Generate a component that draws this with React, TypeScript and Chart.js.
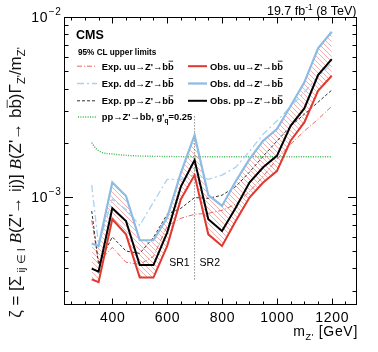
import React, { useEffect, useRef } from 'react';
import { Chart, registerables } from 'chart.js';
Chart.register(...registerables);

// ---- data ----
const masses = [325, 350, 400, 450, 500, 550, 600, 650, 700, 750, 800, 850, 900, 950, 1000, 1050, 1100, 1150, 1200];
const obsUU = [3.47e-4, 3.35e-4, 7.5e-4, 6.18e-4, 3.55e-4, 3.55e-4, 5.32e-4, 9.7e-4, 1.32e-3, 6.18e-4, 5.32e-4, 7.33e-4, 9.9e-4, 1.2e-3, 1.39e-3, 2.05e-3, 2.59e-3, 3.88e-3, 4.71e-3];
const obsDD = [5.5e-4, 5.32e-4, 1.2e-3, 1.01e-3, 5.73e-4, 5.73e-4, 7.66e-4, 1.36e-3, 2.2e-3, 1.02e-3, 8.89e-4, 1.22e-3, 1.62e-3, 2.05e-3, 2.38e-3, 3.2e-3, 4.33e-3, 6.7e-3, 8.28e-3];
const obsPP = [3.98e-4, 3.83e-4, 8.63e-4, 7.33e-4, 4.17e-4, 4.17e-4, 6.32e-4, 1.14e-3, 1.6e-3, 7.5e-4, 6.45e-4, 8.7e-4, 1.2e-3, 1.46e-3, 1.69e-3, 2.48e-3, 3.1e-3, 4.75e-3, 5.83e-3];
const expUU = [7.4e-4, 4.32e-4, 5.23e-4, 4.32e-4, 4.21e-4, 4.66e-4, 6.85e-4, 7.59e-4, 7.99e-4, 8.09e-4, 8.41e-4, 9.08e-4, 1.07e-3, 1.3e-3, 1.62e-3, 1.96e-3, 2.32e-3, 2.7e-3, 3.19e-3];
const expDD = [1.16e-3, 5.37e-4, 9.7e-4, 8.51e-4, 6.94e-4, 9.32e-4, 1.25e-3, 1.25e-3, 1.33e-3, 1.25e-3, 1.32e-3, 1.46e-3, 1.79e-3, 2.23e-3, 2.64e-3, 3.17e-3, 3.82e-3, 4.64e-3, 5.55e-3];
const expPP = [8.33e-4, 4.21e-4, 5.98e-4, 4.99e-4, 4.84e-4, 5.94e-4, 7.99e-4, 8.63e-4, 9.9e-4, 9.8e-4, 1.02e-3, 1.14e-3, 1.37e-3, 1.68e-3, 2.04e-3, 2.47e-3, 2.88e-3, 3.36e-3, 3.92e-3];
const theoryMass = [325, 340, 360, 400, 450, 500, 600, 700, 800, 900, 1000, 1100, 1200];
const theoryPP = [2.0e-3, 1.86e-3, 1.77e-3, 1.73e-3, 1.7e-3, 1.685e-3, 1.675e-3, 1.67e-3, 1.67e-3, 1.67e-3, 1.67e-3, 1.67e-3, 1.67e-3];
const srMass = [700, 700];
const srLine = [3.47e-4, 2.82e-3];
const xMajorTicks = [400, 600, 800, 1000, 1200];
const yMajorTicks = [1e-3, 1e-2];
const yTickExp = ['\u22123', '\u22122'];

const SANS = '"Liberation Sans", Arial, sans-serif';

const C_OBS_UU = '#e0382e';
const C_OBS_DD = '#8cbbe3';
const C_OBS_PP = '#000000';
const C_EXP_UU = '#e8685e';
const C_EXP_DD = '#a9d2f0';
const C_EXP_PP = '#333333';
const C_TH = '#3cb84a';

type Run = { t: string; f: string; dy?: number; bar?: boolean };

function drawRuns(ctx: CanvasRenderingContext2D, runs: Run[], x: number, y: number, align: 'left' | 'right' | 'center' = 'left') {
  const ws = runs.map((r) => { ctx.font = r.f; return ctx.measureText(r.t).width; });
  const w = ws.reduce((a, b) => a + b, 0);
  let cx = align === 'right' ? x - w : align === 'center' ? x - w / 2 : x;
  runs.forEach((r, i) => {
    ctx.font = r.f;
    ctx.textAlign = 'left';
    ctx.fillText(r.t, cx, y + (r.dy || 0));
    if (r.bar) {
      const m = ctx.measureText(r.t);
      const top = y + (r.dy || 0) - m.actualBoundingBoxAscent - 1.3;
      ctx.beginPath();
      ctx.moveTo(cx + 0.6, top);
      ctx.lineTo(cx + ws[i] - 0.6, top);
      ctx.lineWidth = 0.8;
      ctx.strokeStyle = ctx.fillStyle as string;
      ctx.setLineDash([]);
      ctx.stroke();
    }
    cx += ws[i];
  });
  return w;
}

function measureRuns(ctx: CanvasRenderingContext2D, runs: Run[]) {
  return runs.reduce((a, r) => { ctx.font = r.f; return a + ctx.measureText(r.t).width; }, 0);
}

const rootPlugin = {
  id: 'rootDecor',
  afterDraw(chart: any) {
    const { ctx, chartArea: a, scales } = chart;
    const xs = scales.x;
    const ys = scales.y;
    ctx.save();
    ctx.fillStyle = '#000';
    ctx.strokeStyle = '#000';
    ctx.setLineDash([]);
    // frame
    ctx.lineWidth = 1;
    ctx.strokeRect(Math.round(a.left) + 0.5, Math.round(a.top) + 0.5, Math.round(a.right - a.left) - 1, Math.round(a.bottom - a.top) - 1);
    // x ticks
    ctx.beginPath();
    for (let v = 250; v <= 1250; v += 50) {
      const px = Math.round(xs.getPixelForValue(v)) + 0.5;
      if (px < a.left || px > a.right) continue;
      const len = v % 200 === 0 ? 6.5 : 3.5;
      ctx.moveTo(px, a.bottom); ctx.lineTo(px, a.bottom - len);
      ctx.moveTo(px, a.top); ctx.lineTo(px, a.top + len);
    }
    // y ticks
    for (let k = -4; k <= -2; k++) {
      for (let m = 1; m <= 9; m++) {
        const v = m * Math.pow(10, k);
        if (v < ys.min * 0.999 || v > ys.max * 1.001) continue;
        const py = Math.round(ys.getPixelForValue(v)) + 0.5;
        const len = m === 1 ? 9 : 4.5;
        ctx.moveTo(a.left, py); ctx.lineTo(a.left + len, py);
        ctx.moveTo(a.right, py); ctx.lineTo(a.right - len, py);
      }
    }
    ctx.stroke();

    // x tick labels
    (ctx as any).letterSpacing = '0.7px';
    ctx.font = `14px ${SANS}`;
    ctx.textAlign = 'center';
    ctx.textBaseline = 'alphabetic';
    xMajorTicks.forEach((v) => {
      ctx.fillText(String(v), xs.getPixelForValue(v) + 0.4, 321.5);
    });
    // y tick labels
    yMajorTicks.forEach((v, i) => {
      const py = ys.getPixelForValue(v);
      ctx.textAlign = 'right';
      ctx.font = `10px ${SANS}`;
      const supW = ctx.measureText(yTickExp[i]).width;
      ctx.fillText(yTickExp[i], 61.5, py - 2);
      ctx.font = `14px ${SANS}`;
      ctx.fillText('10', 61.5 - supW - 0.5, py + 5);
    });
    // x title
    ctx.textBaseline = 'alphabetic';
    drawRuns(ctx, [
      { t: 'm', f: `14px ${SANS}` },
      { t: "Z'", f: `9px ${SANS}`, dy: 3.5 },
      { t: ' [GeV]', f: `14px ${SANS}` },
    ], 358, 336, 'right');
    (ctx as any).letterSpacing = '0px';

    // y title (rotated)
    const mk = (s: number): Run[] => {
      const F = `${s}px ${SANS}`;
      const FI = `italic ${s}px "Liberation Serif", serif`;
      const FS = `${s * 0.66}px ${SANS}`;
      const d = s * 0.27;
      return [
        { t: '\u03b6 = [', f: F },
        { t: '\u03a3', f: F },
        { t: ' ij \u2208 I', f: FS, dy: d },
        { t: ' ', f: F },
        { t: 'B', f: FI },
        { t: "(Z'\u2192 ij)] ", f: F },
        { t: 'B', f: FI },
        { t: "(Z'\u2192 b", f: F },
        { t: 'b', f: F, bar: true },
        { t: ')\u0393', f: F },
        { t: "Z'", f: FS, dy: d },
        { t: '/m', f: F },
        { t: "Z'", f: FS, dy: d },
      ];
    };
    let s = 15;
    const w0 = measureRuns(ctx, mk(s));
    s = Math.max(12, Math.min(17, s * 301 / w0));
    ctx.save();
    ctx.translate(20.5, 182.5);
    ctx.rotate(-Math.PI / 2);
    ctx.fillStyle = '#111';
    drawRuns(ctx, mk(s), 0, 0, 'center');
    ctx.restore();

    // top-right lumi text
    drawRuns(ctx, [
      { t: '19.7 fb', f: `12.5px ${SANS}` },
      { t: '-1', f: `8.5px ${SANS}`, dy: -5 },
      { t: ' (8 TeV)', f: `12.5px ${SANS}` },
    ], 356.5, 15, 'right');

    // CMS + header
    ctx.textAlign = 'left';
    ctx.font = `bold 12.5px ${SANS}`;
    ctx.fillText('CMS', 76, 38.5);
    ctx.font = `bold 8.2px ${SANS}`;
    ctx.fillText('95% CL upper limits', 78, 54.5);

    // legend
    const LF = `bold 9.4px ${SANS}`;
    const LFS = `bold 6.5px ${SANS}`;
    const rows = [66.2, 83.5, 100.8, 117];
    const sample = (x0: number, x1: number, y: number, color: string, w: number, dash: number[]) => {
      ctx.beginPath();
      ctx.strokeStyle = color; ctx.lineWidth = w; ctx.setLineDash(dash);
      ctx.moveTo(x0, y); ctx.lineTo(x1, y); ctx.stroke();
      ctx.setLineDash([]);
    };
    sample(77, 97, rows[0], C_EXP_UU, 1, [5, 2, 1, 2]);
    sample(77, 97, rows[1], C_EXP_DD, 1.3, [7, 3, 2, 3]);
    sample(77, 97, rows[2], C_EXP_PP, 1, [3, 2]);
    sample(78, 97, rows[3], C_TH, 1.4, [1, 1.4]);
    sample(188, 207, rows[0], C_OBS_UU, 2, []);
    sample(188, 207, rows[1], C_OBS_DD, 2.2, []);
    sample(188, 207, rows[2], C_OBS_PP, 2, []);
    ctx.fillStyle = '#000';
    ctx.strokeStyle = '#000';
    ctx.textBaseline = 'alphabetic';
    const ent = (lab: string) => [{ t: lab + "\u2192Z'\u2192b", f: LF }, { t: 'b', f: LF, bar: true }];
    drawRuns(ctx, ent('Exp. uu'), 101.7, rows[0] + 3.3);
    drawRuns(ctx, ent('Exp. dd'), 101.7, rows[1] + 3.3);
    drawRuns(ctx, ent('Exp. pp'), 101.7, rows[2] + 3.3);
    drawRuns(ctx, [
      { t: "pp\u2192Z'\u2192bb, g'", f: LF },
      { t: 'q', f: LFS, dy: 2.8 },
      { t: '=0.25', f: LF },
    ], 101.7, rows[3] + 3.3);
    drawRuns(ctx, ent('Obs. uu'), 210, rows[0] + 3.3);
    drawRuns(ctx, ent('Obs. dd'), 210, rows[1] + 3.3);
    drawRuns(ctx, ent('Obs. pp'), 210, rows[2] + 3.3);

    // SR labels
    ctx.font = `10.5px ${SANS}`;
    ctx.textAlign = 'right';
    const xsr = xs.getPixelForValue(srMass[0]);
    ctx.fillText('SR1', xsr - 5, 265.7);
    ctx.textAlign = 'left';
    ctx.fillText('SR2', xsr + 5, 265.7);
    ctx.restore();
  },
};

export default function App() {
  const ref = useRef<HTMLCanvasElement>(null);
  useEffect(() => {
    const canvas = ref.current!;
    const ctx = canvas.getContext('2d')!;
    const tile = document.createElement('canvas');
    tile.width = 5; tile.height = 5;
    const tg = tile.getContext('2d')!;
    tg.strokeStyle = 'rgba(238,100,100,0.75)';
    tg.lineWidth = 0.7;
    tg.beginPath();
    tg.moveTo(-1, -1); tg.lineTo(6, 6);
    tg.moveTo(-1, 4); tg.lineTo(1, 6);
    tg.moveTo(4, -1); tg.lineTo(6, 1);
    tg.stroke();
    const hatch = ctx.createPattern(tile, 'repeat')!;

    const pts = (xv: number[], yv: number[]) => xv.map((m, i) => ({ x: m, y: yv[i] }));
    const line = (label: string, data: any[], color: string, width: number, dash: number[], extra: any = {}) => ({
      label, data, borderColor: color, borderWidth: width, borderDash: dash,
      pointRadius: 0, tension: 0, fill: false, backgroundColor: 'transparent', ...extra,
    });

    const chart = new Chart(ctx, {
      type: 'line',
      data: {
        datasets: [
          line('Obs. pp', pts(masses, obsPP), C_OBS_PP, 2, []),
          line('Obs. uu', pts(masses, obsUU), C_OBS_UU, 2, []),
          line('Obs. dd', pts(masses, obsDD), C_OBS_DD, 2.2, [], { fill: 1, backgroundColor: hatch }),
          line('Exp. pp', pts(masses, expPP), C_EXP_PP, 1, [3, 2]),
          line('Exp. uu', pts(masses, expUU), C_EXP_UU, 1, [5, 2, 1, 2]),
          line('Exp. dd', pts(masses, expDD), C_EXP_DD, 1.3, [7, 3, 2, 3]),
          line('Theory', pts(theoryMass, theoryPP), C_TH, 1.4, [1, 1.4], { cubicInterpolationMode: 'monotone' }),
          line('SR', pts(srMass, srLine), '#555555', 1, [1, 2]),
        ],
      },
      options: {
        responsive: false,
        animation: false,
        events: [],
        layout: { padding: { left: 64, right: 21, top: 17, bottom: 47 } },
        scales: {
          x: { type: 'linear', min: 224, max: 1292, bounds: 'data', display: false },
          y: { type: 'logarithmic', min: 2.5e-4, max: 1e-2, bounds: 'data', display: false },
        },
        plugins: {
          legend: { display: false },
          tooltip: { enabled: false },
          filler: { drawTime: 'beforeDatasetsDraw' },
        },
      } as any,
      plugins: [rootPlugin],
    });
    return () => chart.destroy();
  }, []);
  return (
    <div style={{ position: 'fixed', left: 0, top: 0, width: 378, height: 352, background: '#fff' }}>
      <canvas ref={ref} width={378} height={352} style={{ width: 378, height: 352, display: 'block' }} />
    </div>
  );
}
